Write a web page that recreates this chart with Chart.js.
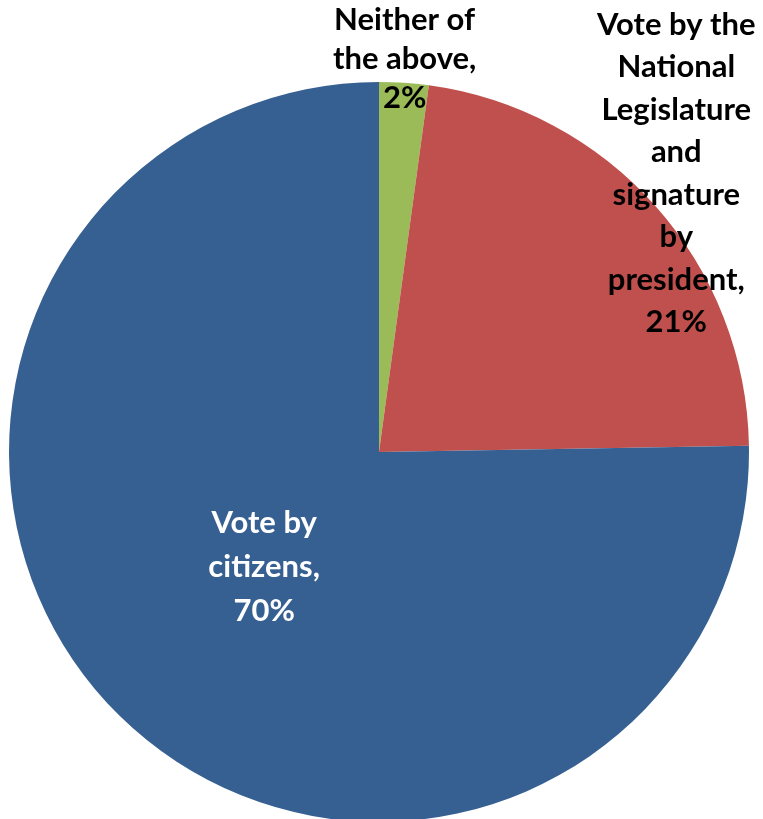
<!DOCTYPE html>
<html>
<head>
<meta charset="utf-8">
<script src="https://cdn.jsdelivr.net/npm/chart.js@4.4.1/dist/chart.umd.min.js"></script>
<style>
html,body{margin:0;padding:0;background:#fff;overflow:hidden;width:763px;height:819px;}
canvas{display:block;}
</style>
</head>
<body>
<canvas id="c" width="763" height="830"></canvas>
<script>
const categories = ["Neither of the above", "Vote by the National Legislature and signature by president", "Vote by citizens"];
const values = [2, 21, 70];
const labelLines = [
  ["Neither of", "the above,", "2%"],
  ["Vote by the", "National", "Legislature", "and", "signature", "by", "president,", "21%"],
  ["Vote by", "citizens,", "70%"]
];
const colors = ["#9BBB59", "#C0504D", "#376092"];

const labelPlugin = {
  id: 'sliceLabels',
  afterDatasetsDraw(chart) {
    const ctx = chart.ctx;
    const meta = chart.getDatasetMeta(0);
    const conf = [
      {f: 1.065, lh: 39, color: '#000', dx: -1, dy: 0},
      {f: 1.10, lh: 42.5, color: '#000', dx: -7, dy: -8},
      {f: 0.435, lh: 44, color: '#fff', dx: -2, dy: 0}
    ];
    meta.data.forEach((arc, i) => {
      const p = arc.getProps(['x','y','startAngle','endAngle','outerRadius'], true);
      const mid = (p.startAngle + p.endAngle) / 2;
      const r = p.outerRadius * conf[i].f;
      const cx = p.x + Math.cos(mid) * r + conf[i].dx;
      const cy = p.y + Math.sin(mid) * r + conf[i].dy;
      const lines = labelLines[i];
      ctx.save();
      ctx.font = 'bold 31px Lato, "Open Sans", sans-serif';
      ctx.fillStyle = conf[i].color;
      ctx.textAlign = 'center';
      ctx.textBaseline = 'middle';
      const lh = conf[i].lh;
      const y0 = cy - (lines.length - 1) * lh / 2;
      lines.forEach((t, k) => ctx.fillText(t, cx, y0 + k * lh));
      ctx.restore();
    });
  }
};

new Chart(document.getElementById('c'), {
  type: 'pie',
  data: {
    labels: categories,
    datasets: [{
      data: values,
      backgroundColor: colors,
      borderWidth: 0
    }]
  },
  options: {
    responsive: false,
    devicePixelRatio: 1,
    animation: false,
    layout: {padding: {top: 82, bottom: 8, left: 9, right: 14}},
    plugins: {legend: {display: false}, tooltip: {enabled: false}}
  },
  plugins: [labelPlugin]
});
</script>
</body>
</html>
